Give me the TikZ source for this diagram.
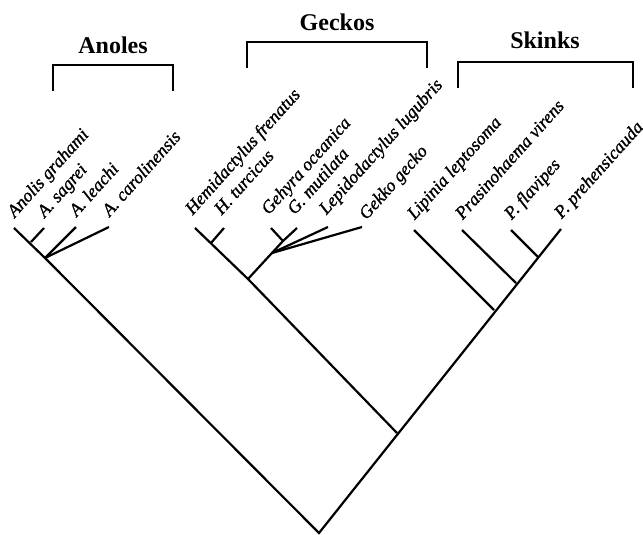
\documentclass[tikz,border=0pt]{standalone}
\usepackage{fontspec}
\setmainfont[ItalicFeatures={FakeBold=1.2}]{Liberation Serif}
\usetikzlibrary{positioning}

\begin{document}
\begin{tikzpicture}[x=1pt,y=-1pt,line width=2.2pt,
    taxon/.style={anchor=base west,inner sep=0pt,yshift=9pt,rotate=48,
                  font=\fontsize{18}{18}\selectfont\itshape},
    group/.style={inner sep=0pt,font=\fontsize{24}{24}\selectfont\bfseries}]
            \useasboundingbox (0,0) rectangle (643,535);

            \coordinate (root)      at (319,533);
            % anoles
            \coordinate (an)        at (45,258);
            \coordinate (ansg)      at (31,242);
            \coordinate (grahami)   at (14,228);
            \coordinate (sagrei)    at (44,228);
            \coordinate (leachi)    at (76,227);
            \coordinate (carolin)   at (109,227);
            % geckos
            \coordinate (gk)        at (397,433);
            \coordinate (gkc)       at (248,279);
            \coordinate (hemi)      at (211,243);
            \coordinate (frenatus)  at (195,228);
            \coordinate (turcicus)  at (224,228);
            \coordinate (gkp)       at (272,253);
            \coordinate (gehyra)    at (283,241);
            \coordinate (oceanica)  at (271,228);
            \coordinate (mutilata)  at (297,228);
            \coordinate (lugubris)  at (328,227);
            \coordinate (gekko)     at (362,227);
            % skinks
            \coordinate (lip)       at (494,310);
            \coordinate (pra)       at (516,283);
            \coordinate (pfl)       at (538,257);
            \coordinate (leptosoma) at (414,230);
            \coordinate (virens)    at (462,230);
            \coordinate (flavipes)  at (511,230);
            \coordinate (prehens)   at (561,229);

            \draw (grahami) -- (an) -- (root) -- (prehens);
            \draw (gk) -- (gkc) -- (frenatus);
            \draw (gkc) -- (gehyra);
            \draw (ansg) edge (sagrei)
                  (an)   edge (leachi)
                         edge (carolin)
                  (hemi) edge (turcicus)
                  (gehyra) edge (oceanica)
                           edge (mutilata)
                  (gkp)  edge (lugubris)
                         edge (gekko)
                  (lip)  edge (leptosoma)
                  (pra)  edge (virens)
                  (pfl)  edge (flavipes);

            \node[taxon] (lgrahami)   at (grahami)   {Anolis grahami};
            \node[taxon] (lsagrei)    at (sagrei)    {A. sagrei};
            \node[taxon] (lleachi)    at (leachi)    {A. leachi};
            \node[taxon] (lcarolin)   at (carolin)   {A. carolinensis};
            \node[taxon,yshift=4pt] (lfrenatus) at (frenatus) {Hemidactylus frenatus};
            \node[taxon,yshift=4pt] (lturcicus) at (turcicus) {H. turcicus};
            \node[taxon,yshift=4pt] (loceanica) at (oceanica) {Gehyra oceanica};
            \node[taxon,yshift=4pt] (lmutilata) at (mutilata) {G. mutilata};
            \node[taxon,yshift=3pt] (llugubris) at (lugubris) {Lepidodactylus lugubris};
            \node[taxon,yshift=-5pt] (lgekko)   at (gekko)    {Gekko gecko};
            \node[taxon] (lleptosoma) at (leptosoma) {Lipinia leptosoma};
            \node[taxon] (lvirens)    at (virens)    {Prasinohaema virens};
            \node[taxon] (lflavipes)  at (flavipes)  {P. flavipes};
            \node[taxon] (lprehens)   at (prehens)   {P. prehensicauda};

            % brackets
            \coordinate (anl) at (53,91);   \coordinate (anr) at (173,91);
            \coordinate (gkl) at (247,68);  \coordinate (gkr) at (427,68);
            \coordinate (skl) at (458,88);  \coordinate (skr) at (633,88);
            \draw (anl) |- ++(60,-26) coordinate (anmid) -| (anr);
            \draw (gkl) |- ++(90,-26) coordinate (gkmid) -| (gkr);
            \draw (skl) |- ++(87,-26) coordinate (skmid) -| (skr);

            \node[group, above=10pt of anmid] (anoles) {Anoles};
            \node[group, above=10pt of gkmid] (geckos) {Geckos};
            \node[group, above=12pt of skmid] (skinks) {Skinks};
\end{tikzpicture}
\end{document}
